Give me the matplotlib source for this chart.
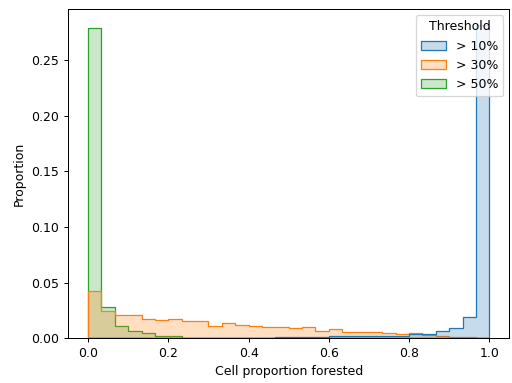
import numpy as np
import pandas as pd
import seaborn as sns
from matplotlib import pyplot as plt

# 30 equal bins over [0, 1]; values are proportions
n_bins = 30
edges = np.linspace(0, 1, n_bins + 1)
centers = (edges[:-1] + edges[1:]) / 2

labels = ['> 10%', '> 30%', '> 50%']

prop_10 = [0.0002, 0.0002, 0.0003, 0.0003, 0.0004, 0.0004, 0.0005, 0.0005, 0.0006,
           0.0006, 0.0007, 0.0007, 0.0008, 0.0008, 0.0009, 0.0010, 0.0011, 0.0012,
           0.0018, 0.0018, 0.0018, 0.0024, 0.0024, 0.0026, 0.0039, 0.0039, 0.0066,
           0.0096, 0.0194, 0.2816]
prop_30 = [0.043, 0.025, 0.0215, 0.0215, 0.0176, 0.0167, 0.0176, 0.016, 0.0155,
           0.0116, 0.0143, 0.0125, 0.0116, 0.0100, 0.0100, 0.0098, 0.0106, 0.0070,
           0.0084, 0.0060, 0.0054, 0.0054, 0.0047, 0.0036, 0.0045, 0.0030, 0.0020,
           0.0015, 0.0015, 0.0]
prop_50 = [0.2784, 0.028, 0.0116, 0.0069, 0.0050, 0.0020, 0.0020, 0.0005, 0.0004,
           0.0004, 0.0003, 0.0003, 0.0003, 0.0002, 0.0002, 0.0002, 0.0002, 0.0002,
           0.0001, 0.0001, 0.0001, 0.0001, 0.0001, 0.0001, 0.0001, 0.0, 0.0,
           0.0, 0.0, 0.0]

df = pd.DataFrame({
    'x': np.tile(centers, 3),
    'w': prop_10 + prop_30 + prop_50,
    'Threshold': np.repeat(labels, n_bins),
})

dpi = 90
fig = plt.figure(figsize=(512 / dpi, 383 / dpi), dpi=dpi)
ax = fig.add_axes([0.1328, 0.1162, 0.8622, 0.8603])

sns.histplot(data=df, x='x', weights='w', hue='Threshold', hue_order=labels,
             bins=n_bins, binrange=(0, 1), element='step', stat='count', ax=ax)
ax.set_xlabel('Cell proportion forested')
ax.set_ylabel('Proportion')
sns.move_legend(ax, 'upper right')

fig.savefig('out.png')
